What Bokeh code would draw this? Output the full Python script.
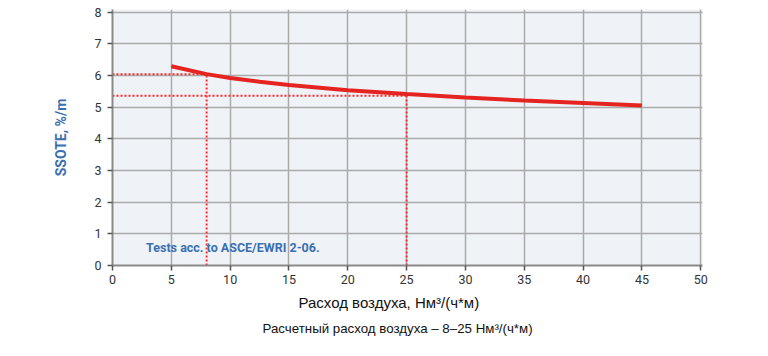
from bokeh.plotting import figure
from bokeh.models import Range1d, Title, FixedTicker, Label
from bokeh.embed import file_html
from bokeh.resources import INLINE

airflow = [5, 8, 10, 12.5, 15, 20, 25, 30, 35, 40, 45]
ssote = [6.29, 6.04, 5.92, 5.80, 5.70, 5.53, 5.41, 5.30, 5.21, 5.13, 5.05]
design_x = [8, 25]
design_y = [6.04, 5.36]
x_ticks = [0, 5, 10, 15, 20, 25, 30, 35, 40, 45, 50]
y_ticks = [0, 1, 2, 3, 4, 5, 6, 7, 8]
note = "Tests acc. to ASCE/EWRI 2-06."
x_title = "Расход воздуха, Нм³/(ч*м)"
subtitle = "Расчетный расход воздуха – 8–25 Нм³/(ч*м)"
y_title = "SSOTE, %/m"

p = figure(width=768, height=356, output_backend="svg", toolbar_location=None,
           x_range=Range1d(0, 50.15), y_range=Range1d(0, 8.08),
           min_border_left=112, min_border_right=66, min_border_top=9, min_border_bottom=91)
p.border_fill_color = "white"
p.background_fill_color = "#eff3f7"
p.outline_line_color = None

for ax in (p.xaxis[0], p.yaxis[0]):
    ax.axis_line_color = "#8a8a8a"
    ax.axis_line_width = 2
    ax.major_tick_line_color = "#555555"
    ax.major_tick_line_width = 1.5
    ax.major_tick_out = 5
    ax.major_tick_in = 0
    ax.minor_tick_line_color = None
    ax.major_label_text_font = "Roboto"
    ax.major_label_text_font_size = "12.5px"
    ax.major_label_text_color = "#333333"

p.xaxis.ticker = FixedTicker(ticks=x_ticks)
p.yaxis.ticker = FixedTicker(ticks=y_ticks)
p.xaxis.major_label_standoff = 4
p.yaxis.major_label_standoff = 6

p.yaxis.axis_label = y_title
p.yaxis.axis_label_text_font = "Roboto"
p.yaxis.axis_label_text_font_style = "bold"
p.yaxis.axis_label_text_font_size = "14px"
p.yaxis.axis_label_text_color = "#3a6fb0"
p.yaxis.axis_label_standoff = 22

p.xgrid.grid_line_color = "#aaaaaa"
p.ygrid.grid_line_color = "#aaaaaa"
p.xgrid.grid_line_width = 1.5
p.ygrid.grid_line_width = 1.5

# reference dotted lines
p.segment(x0=[0] * len(design_x), y0=design_y, x1=design_x, y1=design_y,
          line_color="#ff2a2a", line_width=2, line_dash="2 2")
p.segment(x0=design_x, y0=[0] * len(design_x), x1=design_x, y1=design_y,
          line_color="#ff2a2a", line_width=2, line_dash="2 2")

p.line(airflow, ssote, line_color="#e52421", line_width=4)

p.add_layout(Label(x=2.85, y=0.57, text=note, text_font="Roboto", text_font_style="bold",
                   text_font_size="12.5px", text_color="#3a6fb0", text_baseline="middle"))

t1 = Title(text=x_title, align="left", offset=186, text_font="Liberation Sans",
           text_font_size="15px", text_font_style="normal", text_color="#111111", standoff=10)
t2 = Title(text=subtitle, align="left", offset=150, text_font="Liberation Sans",
           text_font_size="13.3px", text_font_style="normal", text_color="#111111", standoff=6)
p.add_layout(t1, "below")
p.add_layout(t2, "below")

open("out.html", "w").write(file_html(p, INLINE))
